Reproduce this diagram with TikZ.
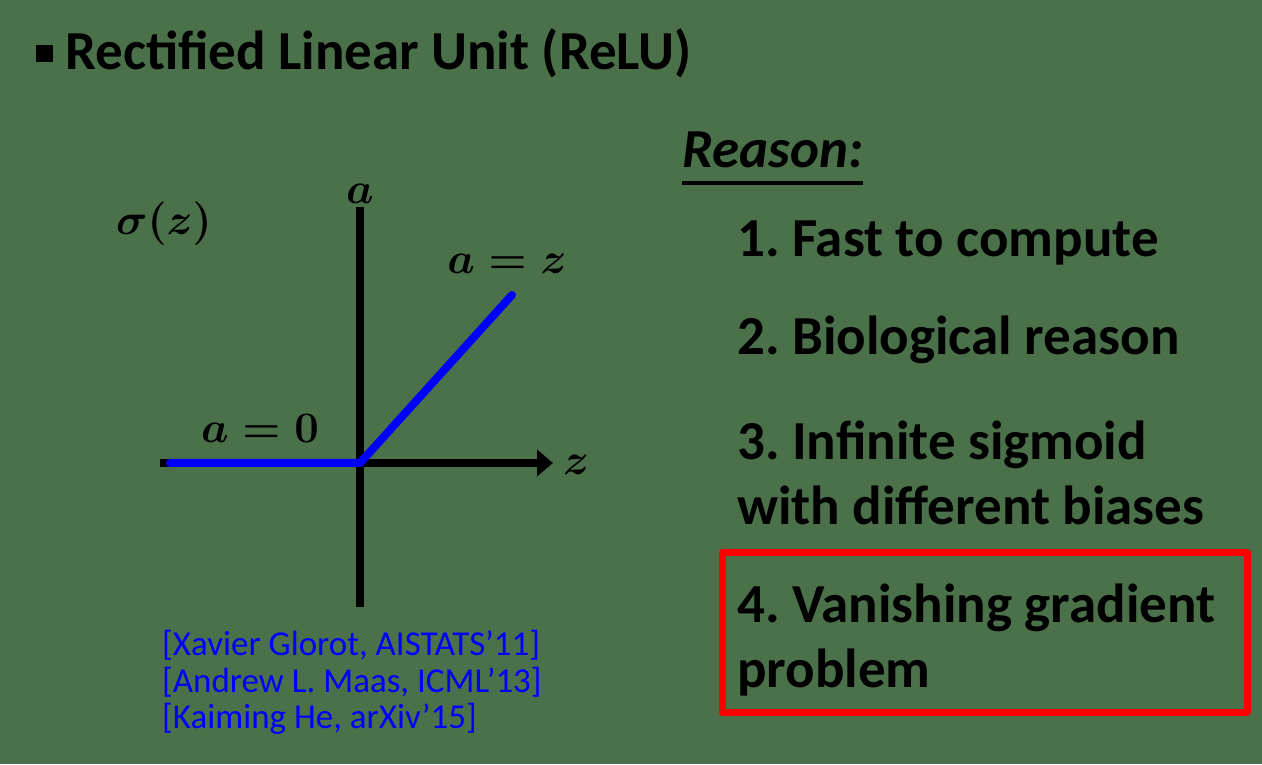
\documentclass[tikz,border=0pt]{standalone}
\usepackage{amssymb,amsmath}
\usepackage{fontspec}
\setmainfont{Carlito}
\usetikzlibrary{arrows.meta}
\definecolor{bggreen}{RGB}{75,113,75}
\definecolor{relublue}{RGB}{0,0,255}
\definecolor{boxred}{RGB}{255,0,0}
\frenchspacing

\begin{document}
\begin{tikzpicture}[line join=round,>={Triangle[length=16pt,width=26pt]},x=1pt,y=1pt,
    big/.style={font=\fontsize{55}{60}\selectfont\bfseries,anchor=base west,inner sep=0pt},
    cite/.style={font=\fontsize{35}{37}\selectfont,text=relublue,anchor=base west,inner sep=0pt},
    lab/.style={font=\Huge\boldmath,scale=1.75,transform shape,inner sep=0pt}]
  \fill[bggreen] (0,0) rectangle (1262,764);
  \useasboundingbox (0,0) rectangle (1262,764);
  % title
  \fill[black] (36,702) rectangle (53,719);
  \node[big] (title) at (65,694) {Rectified Linear Unit (ReLU)};
  % axes
  \coordinate (o) at (360,301);
  \coordinate (xl) at (160,301);
  \coordinate (xr) at (553,301);
  \coordinate (yb) at (360,157);
  \coordinate (yt) at (360,557);
  \draw[line width=8pt] (yb) -- (yt);
  \draw[->,line width=8pt] (xl) -- (xr);
  \node[lab] (alab) at (360,570) {$a$};
  \node[lab] (zlab) at (576,299) {$z$};
  \node[lab] (sig) at (164,540) {$\sigma(z)$};
  % relu
  \coordinate (b0) at (170,301);
  \coordinate (b1) at (512,469);
  \draw[relublue,line width=8pt,line cap=round] (b0) -- (o) -- (b1);
  \node[lab] (az) at (507,500) {$a=z$};
  \node[lab] (a0) at (260,336) {$a=0$};
  % references
  \node[cite] (c1) at (162,109) {[Xavier Glorot, AISTATS’11]};
  \node[cite] (c2) at (162,72) {[Andrew L. Maas, ICML’13]};
  \node[cite] (c3) at (162,36) {[Kaiming He, arXiv’15]};
  % reasons
  \node[big,font=\fontsize{55}{60}\selectfont\bfseries\itshape] (reason) at (682,596) {Reason:};
  \draw[line width=4pt] ([yshift=-14pt]reason.south west) -- ([yshift=-14pt]reason.south east);
  \foreach \t/\yy in {1. Fast to compute/507,2. Biological reason/409,3. Infinite sigmoid/304,with different biases/239,4. Vanishing gradient/142,problem/77}
    \node[big] (r\yy) at (737,\yy) {\t};
  \draw[boxred,line width=7pt] (722,52) rectangle (1247,211);
\end{tikzpicture}
\end{document}
